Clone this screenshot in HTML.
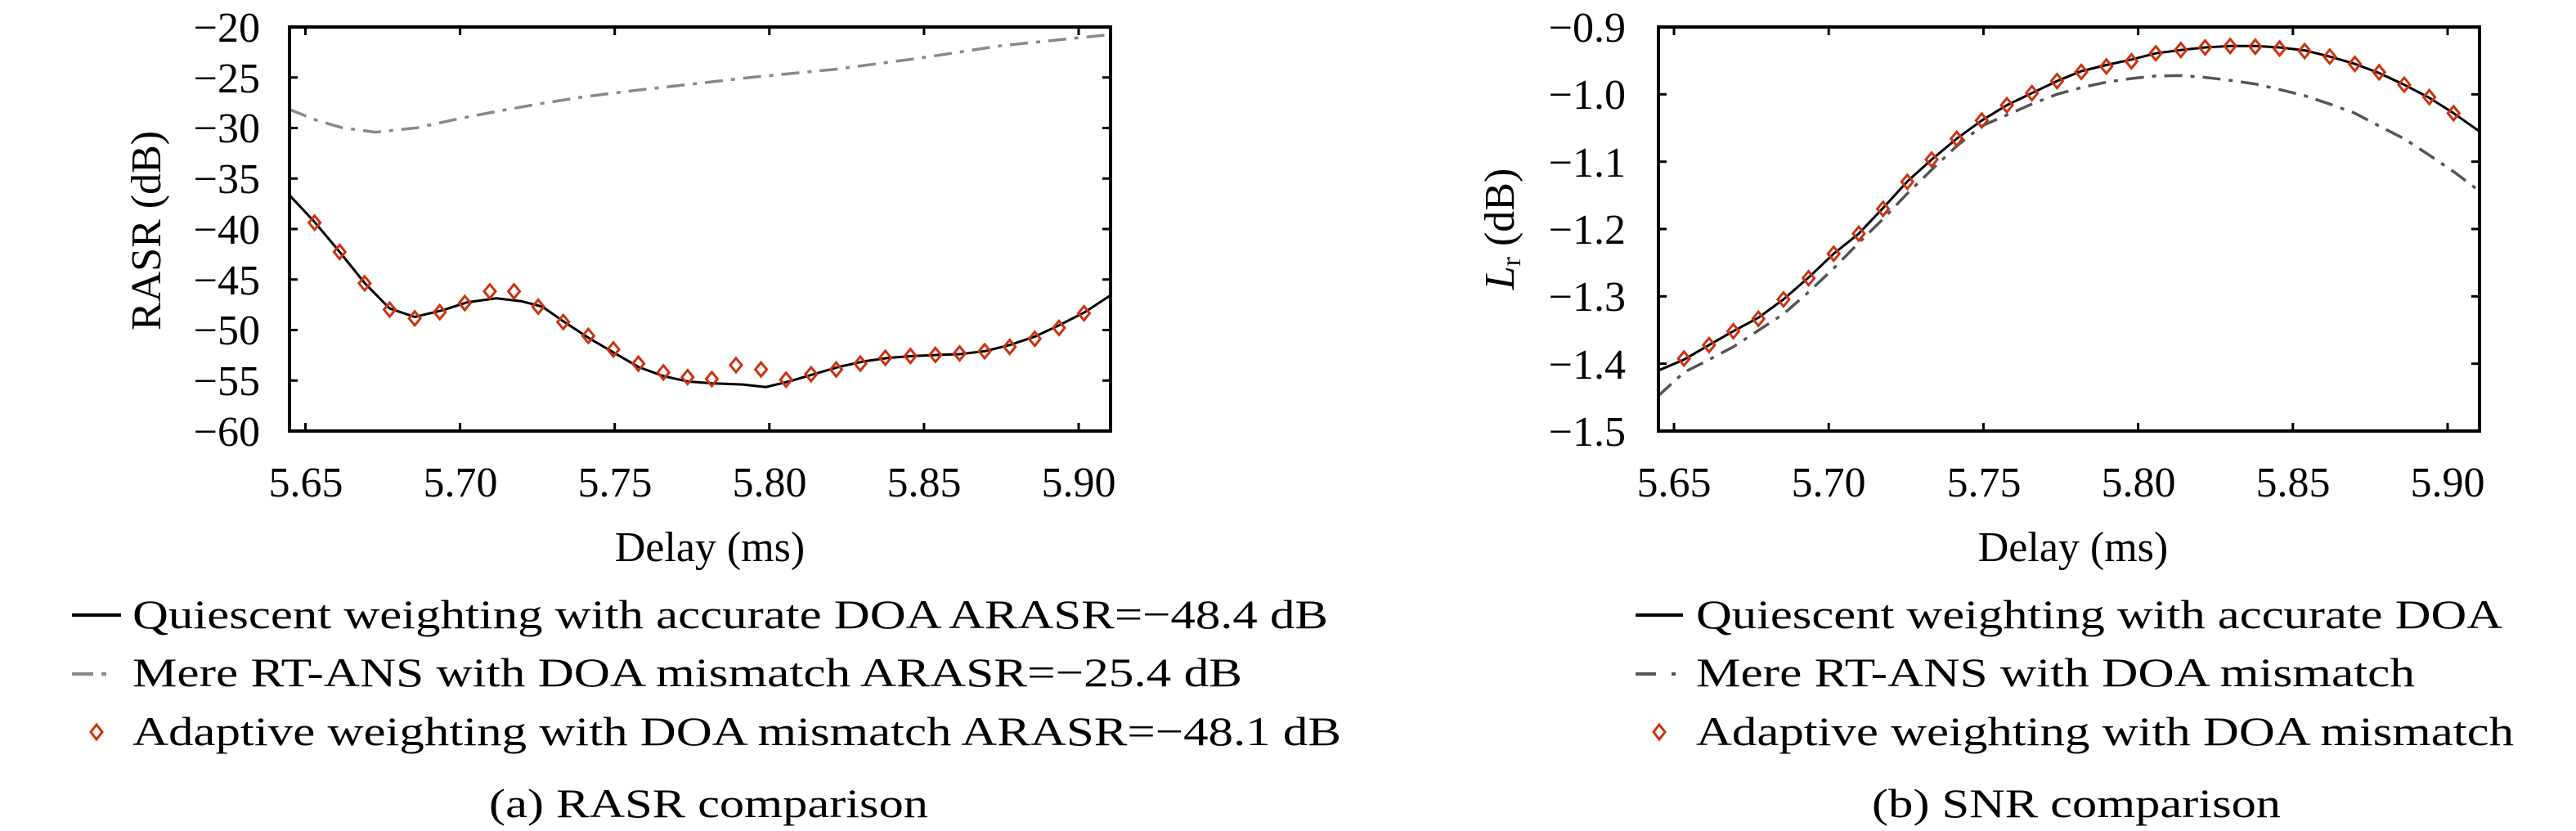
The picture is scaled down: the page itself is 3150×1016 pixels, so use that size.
<!DOCTYPE html>
<html><head><meta charset="utf-8">
<style>
html,body{margin:0;padding:0;background:#fff;}
svg{display:block;}
text{font-family:"Liberation Serif",serif;fill:#000;}
</style></head>
<body>
<svg id="s" width="3150" height="1016" viewBox="0 0 3150 1016" xmlns="http://www.w3.org/2000/svg">
<rect width="3150" height="1016" fill="#fff"/>
<g id="plots"></g>
<rect x="354" y="33" width="1004" height="494" fill="none" stroke="#000" stroke-width="4"/>
<rect x="2028" y="33" width="1004" height="494" fill="none" stroke="#000" stroke-width="4"/>
<g font-size="52" text-anchor="end">
<text x="318" y="51">−20</text>
<text x="318" y="113">−25</text>
<text x="318" y="174">−30</text>
<text x="318" y="236">−35</text>
<text x="318" y="298">−40</text>
<text x="318" y="360">−45</text>
<text x="318" y="421">−50</text>
<text x="318" y="483">−55</text>
<text x="318" y="545">−60</text>
<text x="1988" y="51">−0.9</text>
<text x="1988" y="133">−1.0</text>
<text x="1988" y="216">−1.1</text>
<text x="1988" y="298">−1.2</text>
<text x="1988" y="380">−1.3</text>
<text x="1988" y="463">−1.4</text>
<text x="1988" y="545">−1.5</text>
</g>
<g font-size="52" text-anchor="middle">
<text x="374" y="607">5.65</text>
<text x="563" y="607">5.70</text>
<text x="752" y="607">5.75</text>
<text x="941" y="607">5.80</text>
<text x="1130" y="607">5.85</text>
<text x="1319" y="607">5.90</text>
<text x="2047" y="607">5.65</text>
<text x="2236" y="607">5.70</text>
<text x="2426" y="607">5.75</text>
<text x="2615" y="607">5.80</text>
<text x="2804" y="607">5.85</text>
<text x="2993" y="607">5.90</text>
<text x="868" y="686">Delay (ms)</text>
<text x="2535" y="686">Delay (ms)</text>
<text transform="translate(196,282) rotate(-90)">RASR (dB)</text>
<text transform="translate(1851,280) rotate(-90)"><tspan font-style="italic">L</tspan><tspan font-size="34" dy="8">r</tspan><tspan dy="-8"> (dB)</tspan></text>
</g>
<g font-size="50">
<line x1="88" y1="752" x2="148" y2="752" stroke="#000" stroke-width="4"/>
<text x="162" y="768" textLength="1462" lengthAdjust="spacingAndGlyphs">Quiescent weighting with accurate DOA ARASR=−48.4 dB</text>
<line x1="88" y1="824" x2="114" y2="824" stroke="#888" stroke-width="4"/>
<line x1="124" y1="824" x2="130" y2="824" stroke="#888" stroke-width="4"/>
<text x="162" y="839" textLength="1357" lengthAdjust="spacingAndGlyphs">Mere RT-ANS with DOA mismatch ARASR=−25.4 dB</text>
<path d="M118,886 L125,895 L118,904 L111,895 Z" fill="none" stroke="#cc3311" stroke-width="3"/>
<text x="162" y="911" textLength="1478" lengthAdjust="spacingAndGlyphs">Adaptive weighting with DOA mismatch ARASR=−48.1 dB</text>
<text x="598" y="999" textLength="537" lengthAdjust="spacingAndGlyphs">(a) RASR comparison</text>

<line x1="2000" y1="752" x2="2058" y2="752" stroke="#000" stroke-width="4"/>
<text x="2074" y="768" textLength="986" lengthAdjust="spacingAndGlyphs">Quiescent weighting with accurate DOA</text>
<line x1="2000" y1="824" x2="2025" y2="824" stroke="#555" stroke-width="4"/>
<line x1="2044" y1="824" x2="2049" y2="824" stroke="#555" stroke-width="4"/>
<text x="2074" y="839" textLength="879" lengthAdjust="spacingAndGlyphs">Mere RT-ANS with DOA mismatch</text>
<path d="M2029,886 L2036,895 L2029,904 L2022,895 Z" fill="none" stroke="#cc3311" stroke-width="3"/>
<text x="2074" y="911" textLength="1000" lengthAdjust="spacingAndGlyphs">Adaptive weighting with DOA mismatch</text>
<text x="2289" y="999" textLength="500" lengthAdjust="spacingAndGlyphs">(b) SNR comparison</text>
</g>
</svg>
<script>
(function(){
var NS="http://www.w3.org/2000/svg",g=document.getElementById("plots");
function el(t,a){var e=document.createElementNS(NS,t);for(var k in a)e.setAttribute(k,a[k]);g.appendChild(e);return e;}
function line(pts,sx,ox,sy,stroke,w,dash){
 var p=pts.map(function(q){return (ox+q[0]*sx).toFixed(1)+","+(q[1]*sy).toFixed(1)}).join(" ");
 var a={points:p,fill:"none",stroke:stroke,"stroke-width":w,"stroke-linejoin":"round"};
 if(dash)a["stroke-dasharray"]=dash;
 el("polyline",a);
}
function marks(pts,sx,ox,sy){
 pts.forEach(function(q){var x=ox+q[0]*sx,y=q[1]*sy;
  el("path",{d:"M"+x+","+(y-8.5)+" L"+(x+7)+","+y+" L"+x+","+(y+8.5)+" L"+(x-7)+","+y+" Z",fill:"none",stroke:"#cc3311","stroke-width":3});});
}
function tk(x1,y1,x2,y2){el("line",{x1:x1,y1:y1,x2:x2,y2:y2,stroke:"#000","stroke-width":3});}
for(var k=0;k<6;k++){var x=373.5+k*189.1;tk(x,527,x,517);tk(x,33,x,43);x=2047+k*189.2;tk(x,527,x,517);tk(x,33,x,43);}
for(var i=0;i<9;i++){var y=33+i*61.75;tk(354,y,364,y);tk(1358,y,1348,y);}
for(var i=0;i<7;i++){var y=33+i*82.33;tk(2028,y,2038,y);tk(3032,y,3022,y);}
var SX=1.0204,SY=0.4464,RX=0.9896;
line([[347,300],[380,330],[410,350],[450,362],[500,350],[550,325],[600,303],[650,283],[700,265],[760,248],[830,230],[900,212],[1000,190],[1100,160],[1200,125],[1330,95]],SX,0,SY,"#888",3.5,"22,10,5,10");
line([[347,535],[377,608],[407,690],[437,775],[467,845],[497,868],[530,850],[560,828],[595,817],[625,825],[650,840],[675,880],[705,925],[735,965],[765,1005],[795,1030],[825,1045],[855,1050],[890,1053],[918,1060],[945,1045],[975,1025],[1005,1005],[1035,990],[1065,980],[1095,975],[1125,972],[1150,970],[1180,962],[1210,945],[1240,922],[1270,890],[1300,855],[1330,810]],SX,0,SY,"#000",3);
marks([[377,610],[407,690],[437,776],[467,848],[497,872],[527,855],[557,830],[587,798],[616,798],[645,840],[675,882],[705,920],[735,957],[765,996],[795,1020],[824,1033],[853,1038],[882,1000],[912,1012],[942,1040],[972,1025],[1002,1012],[1031,996],[1061,980],[1091,975],[1121,972],[1150,968],[1180,962],[1210,950],[1240,928],[1269,898],[1299,858]],SX,0,SY);
line([[432,1085],[464,1020],[495,985],[525,950],[556,905],[587,860],[618,800],[649,735],[680,665],[710,600],[740,530],[770,465],[801,400],[832,345],[863,315],[894,285],[925,258],[955,240],[986,225],[1017,215],[1047,208],[1078,207],[1108,212],[1139,220],[1170,230],[1200,245],[1231,262],[1262,285],[1293,310],[1323,345],[1354,380],[1385,425],[1415,470],[1445,520]],RX,1600,SY,"#555",3.5,"22,10,5,10");
line([[432,1015],[464,985],[495,945],[525,907],[556,870],[587,820],[618,760],[649,695],[680,640],[710,570],[740,497],[770,437],[801,380],[832,330],[863,288],[894,255],[925,222],[955,195],[986,178],[1017,163],[1047,146],[1078,137],[1108,130],[1139,126],[1170,126],[1200,130],[1231,138],[1262,155],[1293,175],[1323,200],[1354,232],[1385,268],[1415,310],[1447,360]],RX,1600,SY,"#000",3);
marks([[464,982],[495,945],[525,907],[556,873],[587,820],[618,762],[649,695],[680,640],[710,572],[740,498],[770,437],[801,380],[832,330],[863,288],[894,255],[925,222],[955,197],[986,182],[1017,168],[1047,146],[1078,137],[1108,130],[1139,126],[1170,128],[1200,133],[1231,140],[1262,155],[1293,175],[1323,198],[1354,232],[1385,266],[1415,310]],RX,1600,SY);
})();
</script>
</body></html>
